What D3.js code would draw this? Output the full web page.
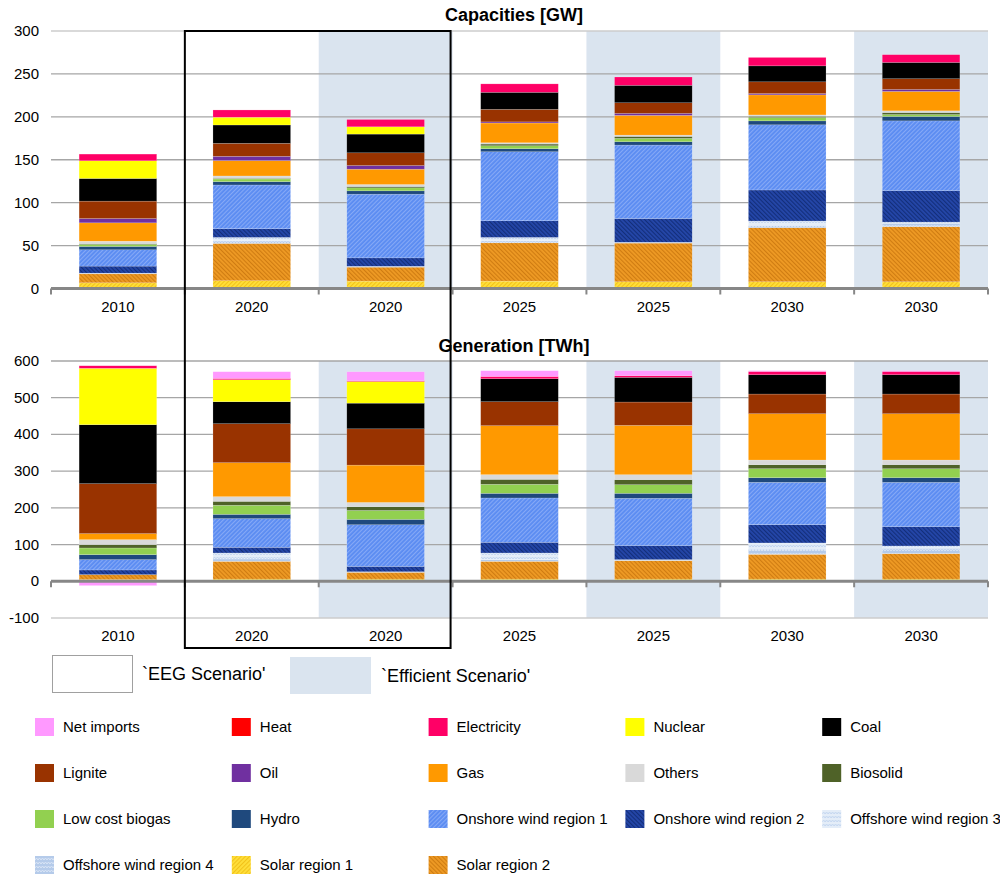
<!DOCTYPE html>
<html>
<head>
<meta charset="utf-8">
<script src="https://cdnjs.cloudflare.com/ajax/libs/d3/7.8.5/d3.min.js"></script>
<style>
body { margin: 0; background: #fff; }
text { font-family: "Liberation Sans", Arial, sans-serif; fill: #000; }
</style>
</head>
<body>
<script>
let width = 1000
let height = 878

// columns
let years = ["2010", "2020", "2020", "2025", "2025", "2030", "2030"]
let shaded = [false, false, true, false, true, false, true]   // `Efficient Scenario' columns

let capTicks = [0, 50, 100, 150, 200, 250, 300]
let genTicks = [-100, 0, 100, 200, 300, 400, 500, 600]

// legend order
let seriesNames = ["Net imports", "Heat", "Electricity", "Nuclear", "Coal",
    "Lignite", "Oil", "Gas", "Others", "Biosolid",
    "Low cost biogas", "Hydro", "Onshore wind region 1", "Onshore wind region 2", "Offshore wind region 3",
    "Offshore wind region 4", "Solar region 1", "Solar region 2"]

// stacking order, bottom first
let stackKeys = ["Solar region 1", "Solar region 2", "Offshore wind region 4", "Offshore wind region 3",
    "Onshore wind region 2", "Onshore wind region 1", "Hydro", "Low cost biogas", "Biosolid", "Others",
    "Gas", "Oil", "Lignite", "Coal", "Nuclear", "Electricity", "Heat", "Net imports"]

// Capacities [GW]
let capNetImports = [0, 0, 0, 0, 0, 0, 0]
let capHeat = [0, 0, 0, 0, 0, 0, 0]
let capElectricity = [7.8, 8.5, 8.5, 9.8, 9.7, 9.8, 9]
let capNuclear = [20.6, 9, 8.5, 0, 0, 0, 0]
let capCoal = [26.4, 21.4, 21.8, 19.9, 20.3, 18.6, 19]
let capLignite = [20.3, 15.1, 14.8, 14.6, 12.4, 13.7, 12.5]
let capOil = [5, 5, 4.3, 1.3, 2.3, 1.5, 2.3]
let capGas = [21.4, 17.9, 17.8, 23, 23, 23.4, 22.6]
let capOthers = [2.8, 2.7, 2.4, 1.5, 1.5, 1.5, 2]
let capBiosolid = [1, 0.8, 1.5, 2, 2.3, 1.5, 2.3]
let capBiogas = [2.3, 3.1, 3.5, 3.5, 3.9, 3.9, 2.3]
let capHydro = [3.9, 3.9, 3.9, 3.5, 3.9, 4.6, 5.1]
let capOnshore1 = [19, 51, 74.2, 80.4, 85.6, 75.9, 81.3]
let capOnshore2 = [8.2, 10.1, 9.8, 19.4, 27.6, 36.2, 36.6]
let capOffshore3 = [0.8, 4, 0.5, 3.8, 0.5, 5, 1.5]
let capOffshore4 = [0, 3, 0.5, 2.5, 0.5, 2.8, 3.9]
let capSolar1 = [6.6, 9, 8.6, 8.6, 7.8, 7.8, 7.8]
let capSolar2 = [10.5, 43.5, 16.3, 44.6, 45.1, 63, 64.2]

// Generation [TWh]
let genNetImports = [-11.8, 18.2, 24.5, 15.5, 13.6, 2, 2]
let genHeat = [0, 0, 0, 0, 0, 0, 0]
let genElectricity = [7, 3.6, 2, 6.3, 4.5, 9, 9]
let genNuclear = [153.5, 59.9, 59, 0, 0, 0, 0]
let genCoal = [160.6, 59.9, 69.9, 62.6, 67.2, 52.6, 52.6]
let genLignite = [136.1, 106.2, 98.9, 65.3, 63.5, 53.6, 53.6]
let genOil = [0, 0, 0, 0, 0, 0, 0]
let genGas = [16.4, 92.5, 101.6, 133.4, 134.3, 126.1, 126.1]
let genOthers = [13.6, 12.7, 11.8, 12.7, 13.6, 12.7, 12.7]
let genBiosolid = [9.1, 10.9, 10, 13.6, 13.6, 10.9, 10.9]
let genBiogas = [18.1, 24.5, 24.5, 24.5, 23.6, 24.5, 24.5]
let genHydro = [13.6, 11.8, 14.5, 12.7, 13.6, 12.7, 12.7]
let genOnshore1 = [28.1, 78, 113.5, 120.7, 128.9, 115.2, 120.7]
let genOnshore2 = [12.8, 15.5, 14.5, 29.1, 38.1, 49.9, 52.6]
let genOffshore3 = [0, 16.3, 0.8, 18, 1.5, 19, 6.4]
let genOffshore4 = [0, 6.4, 0.7, 4.7, 1.2, 11.9, 14.5]
let genSolar1 = [4.5, 6, 6, 6, 6, 6, 6]
let genSolar2 = [13.6, 48.4, 18.5, 48.4, 50.3, 67.5, 69.3]

let capSeries = [capNetImports, capHeat, capElectricity, capNuclear, capCoal, capLignite, capOil, capGas,
    capOthers, capBiosolid, capBiogas, capHydro, capOnshore1, capOnshore2, capOffshore3, capOffshore4,
    capSolar1, capSolar2]
let genSeries = [genNetImports, genHeat, genElectricity, genNuclear, genCoal, genLignite, genOil, genGas,
    genOthers, genBiosolid, genBiogas, genHydro, genOnshore1, genOnshore2, genOffshore3, genOffshore4,
    genSolar1, genSolar2]

let fills = ["#FF99FF", "#FF0000", "#FF0066", "#FFFF00", "#000000",
    "#993300", "#7030A0", "#FF9900", "#D9D9D9", "#4F6228",
    "#92D050", "#1F497D", "url(#onshore1)", "url(#onshore2)", "url(#offshore3)",
    "url(#offshore4)", "url(#solar1)", "url(#solar2)"]

let bandColor = "#DAE4EF"

let svg = d3.select("body")
    .append("svg")
    .attr("width", width)
    .attr("height", height)

let defs = svg.append("defs")

function hatch(id, base, line, angle, size) {
    let p = defs.append("pattern")
        .attr("id", id)
        .attr("patternUnits", "userSpaceOnUse")
        .attr("width", size)
        .attr("height", size)
        .attr("patternTransform", `rotate(${angle})`)
    p.append("rect").attr("width", size).attr("height", size).attr("fill", base)
    p.append("line").attr("x1", 0.5).attr("y1", 0).attr("x2", 0.5).attr("y2", size)
        .attr("stroke", line).attr("stroke-width", 1.2)
}
function wave(id, base, line) {
    let p = defs.append("pattern")
        .attr("id", id)
        .attr("patternUnits", "userSpaceOnUse")
        .attr("width", 6)
        .attr("height", 4)
    p.append("rect").attr("width", 6).attr("height", 4).attr("fill", base)
    p.append("path").attr("d", "M0,3 L1.5,1 L3,3 L4.5,1 L6,3")
        .attr("fill", "none").attr("stroke", line).attr("stroke-width", 0.9)
}
hatch("onshore1", "#5B8CF2", "#86A9F6", 45, 3)
hatch("onshore2", "#2446A8", "#132E7A", -45, 3)
hatch("solar1", "#FFDF3A", "#F2C21A", 45, 3)
hatch("solar2", "#EE9A24", "#CF7C12", -45, 3)
wave("offshore3", "#E4EDF8", "#BFD3EE")
wave("offshore4", "#B5CBEA", "#DCE7F6")

let left = 51, right = 988

let xCol = d3.scaleBand()
    .domain(d3.range(years.length))
    .range([left, right])
    .padding(0)

let xBar = d3.scaleBand()
    .domain(d3.range(years.length))
    .range([left, right])
    .paddingInner(0.42)
    .paddingOuter(0.21)

function makeRows(series) {
    return years.map(function(y, i) {
        let row = { idx: i }
        seriesNames.forEach(function(name, k) { row[name] = series[k][i] })
        return row
    })
}

function drawPanel(series, y, ticks, title, titleY, labelY) {
    let g = svg.append("g")
    let y0 = y.domain()[0], y1 = y.domain()[1]
    let stackBottom = y0 < 0 ? y(y0) : y(0) + 1.5

    g.append("text")
        .attr("x", 514)
        .attr("y", titleY)
        .attr("text-anchor", "middle")
        .attr("font-size", 18)
        .attr("font-weight", "bold")
        .text(title)

    // scenario shading
    g.selectAll(".band")
        .data(d3.range(years.length).filter(i => shaded[i]))
        .enter()
        .append("rect")
        .attr("x", i => xCol(i))
        .attr("width", xCol.bandwidth())
        .attr("y", y(y1))
        .attr("height", stackBottom - y(y1))
        .attr("fill", bandColor)

    // gridlines
    g.selectAll(".grid")
        .data(ticks.filter(t => t != 0))
        .enter()
        .append("line")
        .attr("x1", left)
        .attr("x2", right)
        .attr("y1", d => y(d))
        .attr("y2", d => y(d))
        .attr("stroke", d => (d == y1 && y0 == 0) || d == y0 ? "#CCCCCC" : "#A6A6A6")
        .attr("stroke-width", 1.3)

    // tick labels
    g.selectAll(".ylab")
        .data(ticks)
        .enter()
        .append("text")
        .attr("x", 39)
        .attr("y", d => y(d) + 5)
        .attr("text-anchor", "end")
        .attr("font-size", 15)
        .text(d => d)

    let stacked = d3.stack()
        .keys(stackKeys)
        .offset(d3.stackOffsetDiverging)(makeRows(series))

    g.selectAll(".layer")
        .data(stacked)
        .enter()
        .append("g")
        .attr("fill", d => fills[seriesNames.indexOf(d.key)])
        .selectAll("rect")
        .data(d => d)
        .enter()
        .append("rect")
        .attr("x", d => xBar(d.data.idx))
        .attr("width", xBar.bandwidth())
        .attr("y", d => y(Math.max(d[0], d[1])))
        .attr("height", d => Math.abs(y(d[0]) - y(d[1])))
        .attr("stroke", "rgba(255,255,255,0.35)")
        .attr("stroke-width", 0.5)

    // zero axis
    g.append("line")
        .attr("x1", left)
        .attr("x2", right)
        .attr("y1", y(0))
        .attr("y2", y(0))
        .attr("stroke", "#878787")
        .attr("stroke-width", 3)
    g.selectAll(".tick")
        .data(d3.range(years.length + 1))
        .enter()
        .append("line")
        .attr("x1", i => left + i * xCol.step())
        .attr("x2", i => left + i * xCol.step())
        .attr("y1", y(0))
        .attr("y2", y(0) + 6)
        .attr("stroke", "#878787")
        .attr("stroke-width", 2)

    g.selectAll(".xlab")
        .data(years)
        .enter()
        .append("text")
        .attr("x", (d, i) => xCol(i) + xCol.bandwidth() / 2)
        .attr("y", labelY)
        .attr("text-anchor", "middle")
        .attr("font-size", 15)
        .text(d => d)
}

let yCap = d3.scaleLinear().domain([0, 300]).range([288.5, 31])
let yGen = d3.scaleLinear().domain([-100, 600]).range([618, 361])

drawPanel(capSeries, yCap, capTicks, "Capacities [GW]", 21, 312)
drawPanel(genSeries, yGen, genTicks, "Generation [TWh]", 352, 641)

// box round the 2020 pair
svg.append("rect")
    .attr("x", xCol(1))
    .attr("y", yCap(300))
    .attr("width", xCol.step() * 2 - 2)
    .attr("height", 648 - yCap(300))
    .attr("fill", "none")
    .attr("stroke", "#000")
    .attr("stroke-width", 2)

// scenario legend
svg.append("rect").attr("x", 52.5).attr("y", 655.5).attr("width", 80).attr("height", 37)
    .attr("fill", "#fff").attr("stroke", "#A0A0A0")
svg.append("text").attr("x", 142).attr("y", 680).attr("font-size", 18).text("`EEG Scenario'")
svg.append("rect").attr("x", 290).attr("y", 657).attr("width", 81).attr("height", 37)
    .attr("fill", bandColor)
svg.append("text").attr("x", 381).attr("y", 682).attr("font-size", 18).text("`Efficient Scenario'")

// series legend
let leg = svg.append("g")
    .selectAll("g")
    .data(seriesNames)
    .enter()
    .append("g")
    .attr("transform", (d, i) => `translate(${35 + (i % 5) * 196.8},${727 + Math.floor(i / 5) * 46})`)
leg.append("rect")
    .attr("x", 0)
    .attr("y", -9)
    .attr("width", 19)
    .attr("height", 18)
    .attr("fill", (d, i) => fills[i])
leg.append("text")
    .attr("x", 28)
    .attr("y", 5)
    .attr("font-size", 15)
    .text(d => d)
</script>
</body>
</html>
